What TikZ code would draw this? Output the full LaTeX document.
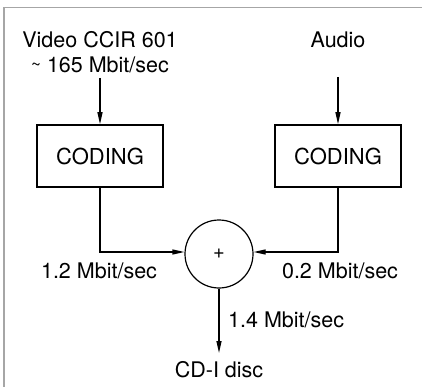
\documentclass[tikz,border=0pt]{standalone}
\usepackage{fontspec}
\setmainfont{TeX Gyre Heros}
\usetikzlibrary{arrows.meta}
\begin{document}
\begin{tikzpicture}[x=1pt,y=-1pt,
  lbl/.style={inner sep=0pt,font=\fontsize{21.5}{24}\selectfont},
  codebox/.style={draw,line width=1.5pt,minimum width=126pt,minimum height=62pt,inner sep=0pt,font=\fontsize{22}{24}\selectfont},
  conn/.style={line width=1.2pt,-{Triangle[length=12pt,width=5pt]}},
  wire/.style={line width=1.2pt}]
\useasboundingbox (0,0) rectangle (422,387);
\draw[gray!70,line width=1.5pt] (4,390) -- (4,7.5) -- (425,7.5);
% texts
\node[lbl] (vid) at (100,40) {Video CCIR 601};
\node[lbl] (rate) at (100,65) {\raisebox{0.15ex}{\fontsize{17}{17}\selectfont\textasciitilde}\ 165 Mbit/sec};
\node[lbl] (aud) at (338,40) {Audio};
% boxes
\node[codebox] (c1) at (100,156) {CODING};
\node[codebox] (c2) at (338,156) {CODING};
% adder
\node[draw,circle,line width=1.2pt,minimum size=68pt,inner sep=0pt,font=\fontsize{20}{20}\selectfont] (sum) at (219,254) {+};
% labels
\node[lbl] (l1) at (99,271) {1.2 Mbit/sec};
\node[lbl] (l2) at (340,271) {0.2 Mbit/sec};
\node[lbl,anchor=west] (l3) at (228,320) {1.4 Mbit/sec};
\node[lbl] (cd) at (219,370) {CD-I disc};
% coordinates
\coordinate (va) at (100,78);
\coordinate (aa) at (338,77);
\coordinate (k1) at (100,252);
\coordinate (k2) at (338,252);
\coordinate (out) at (219,353);
% connectors
\draw[conn] (va) -- (c1.north);
\draw[conn] (aa) -- (c2.north);
\draw[conn] (c1.south) -- (k1) -- (sum.west |- k1);
\draw[conn] (c2.south) -- (k2) -- (sum.east |- k2);
\draw[conn] (sum.south) -- (out);
\end{tikzpicture}
\end{document}
